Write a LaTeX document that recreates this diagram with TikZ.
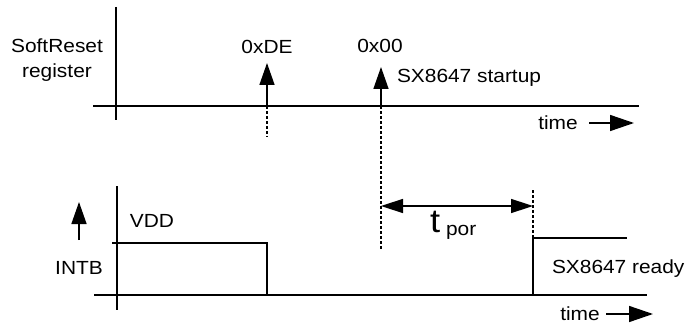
\documentclass[tikz,border=0pt]{standalone}
\usepackage{fontspec}
\setmainfont{Liberation Sans}[FakeStretch=1.1]
\usetikzlibrary{arrows.meta, positioning}

\begin{document}
\begin{tikzpicture}[
x=1pt, y=-1pt,
   txt/.style = {font=\fontsize{19}{25}\selectfont,
                 inner sep=0pt, outer sep=0pt, align=center},
   axs/.style = {line width=1.6pt},
   sig/.style = {line width=1.3pt},
   dsh/.style = {line width=1.2pt, dash pattern=on 3pt off 2pt},
   arr/.style = {line width=1.5pt,
                 -{Triangle[length=22pt,width=15pt]}},
   tar/.style = {line width=1.5pt,
                 -{Triangle[length=24pt,width=16pt]}},
   dim/.style = {line width=1.5pt,
                 {Triangle[length=22pt,width=14pt]}-{Triangle[length=22pt,width=14pt]}}
                        ]
\useasboundingbox (0,0) rectangle (691,329);
    % register axes
\coordinate (rv1) at (116,7);
\coordinate (rv2) at (116,120);
\coordinate (rh1) at (93,106);
\coordinate (rh2) at (639,106);
\draw[axs] (rv1) -- (rv2);
\draw[axs] (rh1) -- (rh2);
\node (reg)  [txt] at (57,60) {SoftReset\\register};
    % writes
\coordinate (de)    at (267,106);
\coordinate (detip) at (267,63);
\coordinate (debot) at (267,137);
\coordinate (oo)    at (381,106);
\coordinate (ootip) at (381,67);
\coordinate (oobot) at (381,250);
\node (lde)   [txt] at (267,47) {0xDE};
\node (loo)   [txt] at (380,46) {0x00};
\node (start) [txt,anchor=west] at (397,78) {SX8647 startup};
\draw[arr] (de) -- (detip);
\draw[arr] (oo) -- (ootip);
\draw[dsh] (de) -- (debot);
\draw[dsh] (oo) -- (oobot);
\node (time1) [txt] at (558,123) {time};
\coordinate (ta1) at (589,123);
\coordinate (ta2) at (634,123);
\draw[tar] (ta1) -- (ta2);
    % INTB axes
\coordinate (iv1) at (117,186);
\coordinate (iv2) at (117,310);
\coordinate (ih1) at (94,295);
\coordinate (ih2) at (647,295);
\draw[axs] (iv1) -- (iv2);
\draw[axs] (ih1) -- (ih2);
\node (intb) [txt] at (79,268) {INTB};
\coordinate (ua1) at (79,240);
\coordinate (ua2) at (79,202);
\draw[arr] (ua1) -- (ua2);
\node (vdd)  [txt] at (152,221) {VDD};
    % INTB signal
\coordinate (s0) at (112,243);
\coordinate (s1) at (267,243);
\coordinate (s2) at (267,295);
\coordinate (s3) at (533,295);
\coordinate (s4) at (533,238);
\coordinate (s5) at (627,238);
\coordinate (rtop) at (533,190);
\draw[sig] (s0) -- (s1) -- (s2);
\draw[line width=2.4pt] (s2) -- (s3);
\draw[sig] (s3) -- (s4) -- (s5);
\draw[dsh] (rtop) -- (s4);
\node (ready) [txt,anchor=west] at (552,269) {SX8647 ready};
    % power-on delay
\coordinate (p1) at (381,206);
\coordinate (p2) at (533,206);
\draw[dim] (p1) -- (p2);
\node (tpor) [txt,anchor=base west] at (430,232)
    {{\fontsize{33}{33}\selectfont t}\hspace{6pt}\raisebox{-3pt}{por}};
\node (time2) [txt] at (580,314) {time};
\coordinate (tb1) at (606,314);
\coordinate (tb2) at (653,314);
\draw[tar] (tb1) -- (tb2);
\end{tikzpicture}
\end{document}
